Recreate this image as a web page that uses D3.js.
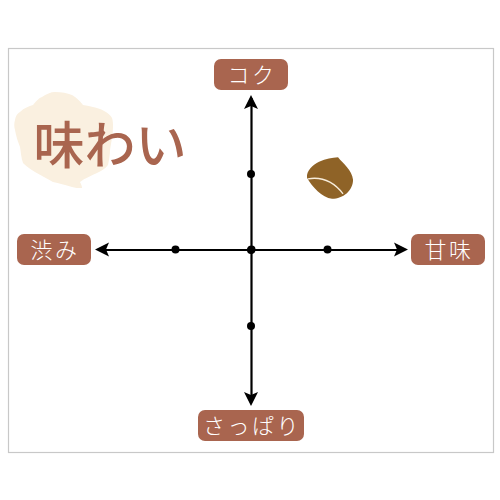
<!DOCTYPE html>
<html lang="ja">
<head>
<meta charset="utf-8">
<script src="https://d3js.org/d3.v7.min.js"></script>
<style>
  html, body { margin: 0; padding: 0; background: #fff; }
  svg { display: block; }
  text { font-family: "Noto Sans CJK JP", sans-serif; }
</style>
</head>
<body>
<script>
// values
const title = '味わい';
const axisLabels = ['コク', '甘味', 'さっぱり', '渋み'];
const tickValues = [-1, 0, 1];
const sweetness = [1.04];
const richness = [0.93];

const BROWN = '#a9654f';

const svg = d3.select('body').append('svg').attr('width', 500).attr('height', 500);

const x = d3.scaleLinear().domain([-2, 2]).range([99, 403]);
const y = d3.scaleLinear().domain([-2, 2]).range([401.5, 97.5]);

// frame
svg.append('rect')
  .attr('x', 8.5).attr('y', 48.5).attr('width', 485).attr('height', 404)
  .attr('fill', '#fff').attr('stroke', '#c8c8c8').attr('stroke-width', 1.2);

// cloud behind the title
svg.append('path')
  .attr('transform', 'translate(15,92)')
  .attr('fill', '#faf0e0')
  .attr('d', 'M0 28 C1 23 3 21 5 20 C9 16 14 14 18 13 C21 9 24 6 27 5 C31 2 36 0 40 0 C47 0 52 1 57 3 C62 6 65 9 68 13 C74 14 80 15 85 17 C90 19 95 22 97 26 C98 29 98 32 98 35 C98 43 96 51 95 58 C95 63 94 68 93 73 C90 77 86 79 82 81 C76 84 70 86 65 90 C66 92 67 94 67 96 C63 96 60 96 57 95 C50 93 44 91 38 90 C32 87 26 83 20 80 C15 77 11 74 8 71 C6 66 6 60 5 55 C3 50 1 44 0 38 C-1 35 -1 31 0 28 Z');

svg.append('text')
  .attr('x', 33.5).attr('y', 164)
  .attr('font-size', 51)
  .attr('font-weight', 500)
  .attr('fill', BROWN)
  .text(title);

// axes
const xAxis = svg.append('g')
  .attr('transform', `translate(0,${y(0)})`)
  .call(d3.axisBottom(x).tickValues(tickValues).tickSize(0).tickFormat(''));
const yAxis = svg.append('g')
  .attr('transform', `translate(${x(0)},0)`)
  .call(d3.axisLeft(y).tickValues(tickValues).tickSize(0).tickFormat(''));

[xAxis, yAxis].forEach(a => {
  a.select('.domain').attr('stroke', '#000').attr('stroke-width', 2.2);
  a.selectAll('.tick').append('circle').attr('r', 4).attr('fill', '#000');
});

// arrow heads, pointing right before rotating
const head = 'M0 0 L-14 -7 L-11 0 L-14 7 Z';
const ends = [
  { px: x(0), py: y(2) - 2.5, rot: -90 },
  { px: x(2) + 5, py: y(0), rot: 0 },
  { px: x(0), py: y(-2) + 4.5, rot: 90 },
  { px: x(-2) - 4, py: y(0), rot: 180 }
];
svg.append('g').selectAll('path').data(ends).join('path')
  .attr('d', head)
  .attr('fill', '#000')
  .attr('transform', d => `translate(${d.px},${d.py}) rotate(${d.rot})`);

// labels on the four ends
const boxes = [
  { cx: x(0) , cy: 74.5, w: 74 },
  { cx: 448, cy: y(0), w: 74 },
  { cx: x(0), cy: 425.5, w: 106 },
  { cx: 54, cy: y(0), w: 74 }
];
const label = svg.append('g').selectAll('g').data(axisLabels).join('g')
  .attr('transform', (d, i) => `translate(${boxes[i].cx},${boxes[i].cy})`);
label.append('rect')
  .attr('x', (d, i) => -boxes[i].w / 2)
  .attr('y', -15.5)
  .attr('width', (d, i) => boxes[i].w)
  .attr('height', 31)
  .attr('rx', 7)
  .attr('fill', BROWN);
label.append('text')
  .attr('text-anchor', 'middle')
  .attr('x', 1)
  .attr('y', 8)
  .attr('font-size', 22)
  .attr('font-weight', 300)
  .attr('letter-spacing', 2.5)
  .attr('fill', '#fff')
  .text(d => d);

// chestnut marker
const marker = svg.append('g').selectAll('g').data(sweetness).join('g')
  .attr('transform', (d, i) => `translate(${x(d)},${y(richness[i])})`);
marker.append('path')
  .attr('fill', '#8f6327')
  .attr('d', 'M8 -21.5 C13 -15 22 -9 23 1 C23 12 13 20 2 20 C-8 19 -18 8 -23 -1 C-24 -8 -17 -14 -11 -17 C-4 -20 2 -21 8 -21.5 Z');
marker.append('path')
  .attr('fill', 'none')
  .attr('stroke', '#f8eddb')
  .attr('stroke-width', 1.3)
  .attr('d', 'M-22 0 C-10 -2 3 2 13 15');
</script>
</body>
</html>
